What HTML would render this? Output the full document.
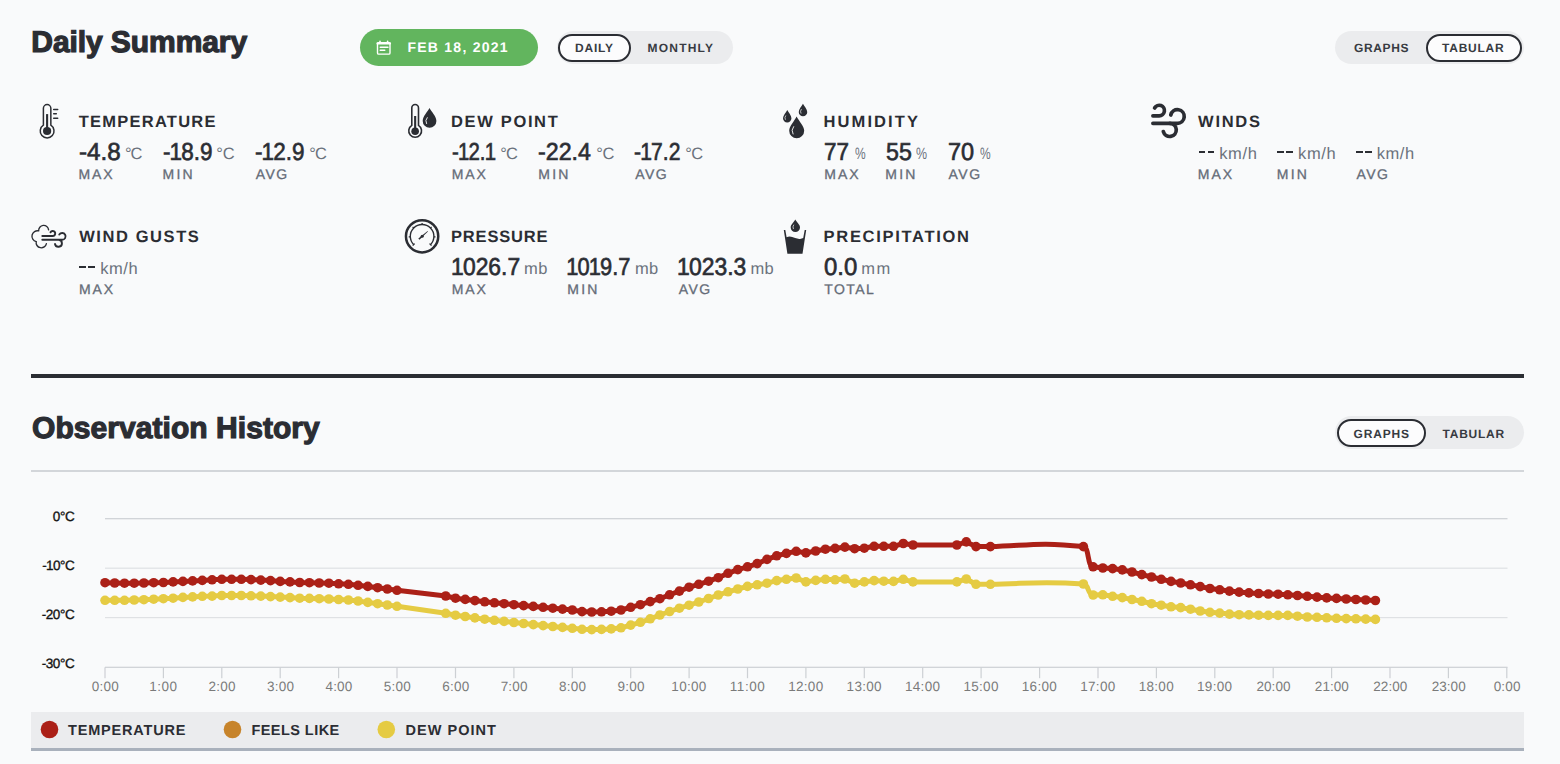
<!DOCTYPE html>
<html lang="en"><head><meta charset="utf-8"><title>Daily Summary</title>
<style>
html,body{margin:0;padding:0}
body{width:1560px;height:764px;overflow:hidden;background:#f9fafb;font-family:"Liberation Sans",sans-serif;position:relative;text-rendering:geometricPrecision}
.t{position:absolute;white-space:pre}
.d{position:absolute;background:#2b2d33;display:block}
.pill{position:absolute;border-radius:40px}
.tog{background:#ebecee}
.sel{background:#fcfcfd;border:2px solid #2b2d33;box-sizing:border-box}
.yl{position:absolute;right:1485px;font-size:13px;line-height:15px;color:#111;-webkit-text-stroke:0.55px #111;white-space:pre}
.xl{position:absolute;width:60px;text-align:center;top:679.5px;font-size:14px;line-height:15px;color:#777;white-space:pre}
svg{position:absolute;left:0;top:0}
</style></head><body>
<div class="pill" style="left:360px;top:29px;width:177.7px;height:37.4px;background:#62b55e"></div>
<div class="pill tog" style="left:557px;top:31.2px;width:176px;height:33px"></div>
<div class="pill sel" style="left:558.2px;top:33.5px;width:72.6px;height:28.5px"></div>
<div class="pill tog" style="left:1335px;top:31.2px;width:188.5px;height:33px"></div>
<div class="pill sel" style="left:1426px;top:33.5px;width:95.5px;height:28.5px"></div>
<div class="pill tog" style="left:1335px;top:416.4px;width:188.5px;height:33px"></div>
<div class="pill sel" style="left:1336.6px;top:418.7px;width:89.6px;height:28.5px"></div>
<div style="position:absolute;left:31.3px;top:373.8px;width:1492.6px;height:4.4px;background:#2b2d33"></div>
<div style="position:absolute;left:31.3px;top:469.5px;width:1492.6px;height:2px;background:#d3d6da"></div>
<div style="position:absolute;left:31.3px;top:712px;width:1492.6px;height:35.6px;background:#ebecee;border-bottom:3px solid #a9b1bc"></div>
<svg width="1560" height="764" viewBox="0 0 1560 764">
<rect x="105" y="518.1" width="1402.5" height="1.2" fill="#cdd0d4"/>
<rect x="105" y="567.6" width="1402.5" height="1.2" fill="#dfe1e4"/>
<rect x="105" y="617.0" width="1402.5" height="1.2" fill="#dfe1e4"/>
<rect x="105" y="666.7" width="1402.5" height="1.2" fill="#cdd0d4"/>
<rect x="104.4" y="667.3" width="1.2" height="10.9" fill="#cdd0d4"/>
<rect x="162.8" y="667.3" width="1.2" height="10.9" fill="#cdd0d4"/>
<rect x="221.2" y="667.3" width="1.2" height="10.9" fill="#cdd0d4"/>
<rect x="279.6" y="667.3" width="1.2" height="10.9" fill="#cdd0d4"/>
<rect x="338.0" y="667.3" width="1.2" height="10.9" fill="#cdd0d4"/>
<rect x="396.4" y="667.3" width="1.2" height="10.9" fill="#cdd0d4"/>
<rect x="454.9" y="667.3" width="1.2" height="10.9" fill="#cdd0d4"/>
<rect x="513.3" y="667.3" width="1.2" height="10.9" fill="#cdd0d4"/>
<rect x="571.7" y="667.3" width="1.2" height="10.9" fill="#cdd0d4"/>
<rect x="630.1" y="667.3" width="1.2" height="10.9" fill="#cdd0d4"/>
<rect x="688.5" y="667.3" width="1.2" height="10.9" fill="#cdd0d4"/>
<rect x="746.9" y="667.3" width="1.2" height="10.9" fill="#cdd0d4"/>
<rect x="805.3" y="667.3" width="1.2" height="10.9" fill="#cdd0d4"/>
<rect x="863.7" y="667.3" width="1.2" height="10.9" fill="#cdd0d4"/>
<rect x="922.1" y="667.3" width="1.2" height="10.9" fill="#cdd0d4"/>
<rect x="980.5" y="667.3" width="1.2" height="10.9" fill="#cdd0d4"/>
<rect x="1039.0" y="667.3" width="1.2" height="10.9" fill="#cdd0d4"/>
<rect x="1097.4" y="667.3" width="1.2" height="10.9" fill="#cdd0d4"/>
<rect x="1155.8" y="667.3" width="1.2" height="10.9" fill="#cdd0d4"/>
<rect x="1214.2" y="667.3" width="1.2" height="10.9" fill="#cdd0d4"/>
<rect x="1272.6" y="667.3" width="1.2" height="10.9" fill="#cdd0d4"/>
<rect x="1331.0" y="667.3" width="1.2" height="10.9" fill="#cdd0d4"/>
<rect x="1389.4" y="667.3" width="1.2" height="10.9" fill="#cdd0d4"/>
<rect x="1447.8" y="667.3" width="1.2" height="10.9" fill="#cdd0d4"/>
<rect x="1506.2" y="667.3" width="1.2" height="10.9" fill="#cdd0d4"/>
<path d="M105.0 600.3L114.7 600.3L124.5 600.3L134.2 600.0L143.9 599.7L153.7 599.2L163.4 598.7L173.1 598.2L182.9 597.4L192.6 596.9L202.3 596.3L212.1 596.1L221.8 595.5L231.6 595.5L241.3 595.5L251.0 595.8L260.8 596.1L270.5 596.6L280.2 597.1L290.0 597.6L299.7 598.2L309.4 598.4L319.2 598.7L328.9 599.0L338.6 599.5L348.4 600.0L358.1 601.0L367.8 602.4L377.6 603.7L387.3 605.0L397.0 606.3L445.7 613.3L455.5 615.2L465.2 616.5L474.9 617.9L484.7 619.2L494.4 620.3L504.1 621.4L513.9 622.5L523.6 623.5L533.3 624.6L543.1 625.6L552.8 626.5L562.5 627.4L572.3 628.3L582.0 629.3L591.7 629.6L601.5 629.4L611.2 628.9L621.0 627.8L630.7 625.1L640.4 622.3L650.2 618.8L659.9 615.0L669.6 611.5L679.4 608.2L689.1 605.2L698.8 602.0L708.6 598.5L718.3 595.0L728.0 591.8L737.8 589.0L747.5 586.4L757.2 584.8L767.0 583.2L776.7 580.6L786.4 579.3L796.2 578.0L805.9 581.9L815.7 580.4L825.4 579.3L835.1 579.8L844.9 579.0L854.6 583.2L864.3 581.9L874.1 580.6L883.8 581.2L893.5 581.4L903.3 579.3L913.0 581.9L956.9 581.9L966.3 579.0L976.0 584.3L990.4 584.3C1025.4 583.9 1038.4 580.6 1083.4 584.0C1089.2 584.0 1087.2 595.0 1093.1 595.0L1102.8 594.8L1112.6 596.3L1122.3 597.6L1132.0 599.5L1141.8 601.3L1151.5 603.7L1161.2 605.2L1171.0 606.8L1180.7 607.6L1190.5 609.2L1200.2 611.0L1209.9 612.3L1219.7 613.1L1229.4 614.1L1239.1 614.7L1248.9 614.9L1258.6 615.2L1268.3 615.4L1278.1 615.4L1287.8 615.4L1297.5 616.2L1307.3 617.0L1317.0 617.3L1326.7 617.8L1336.5 618.3L1346.2 618.6L1355.9 618.8L1365.7 619.1L1375.4 619.4" fill="none" stroke="#e5cb43" stroke-width="5" stroke-linejoin="round" stroke-linecap="round"/>
<g fill="#e5cb43"><circle cx="105.0" cy="600.3" r="4.8"/><circle cx="114.7" cy="600.3" r="4.8"/><circle cx="124.5" cy="600.3" r="4.8"/><circle cx="134.2" cy="600.0" r="4.8"/><circle cx="143.9" cy="599.7" r="4.8"/><circle cx="153.7" cy="599.2" r="4.8"/><circle cx="163.4" cy="598.7" r="4.8"/><circle cx="173.1" cy="598.2" r="4.8"/><circle cx="182.9" cy="597.4" r="4.8"/><circle cx="192.6" cy="596.9" r="4.8"/><circle cx="202.3" cy="596.3" r="4.8"/><circle cx="212.1" cy="596.1" r="4.8"/><circle cx="221.8" cy="595.5" r="4.8"/><circle cx="231.6" cy="595.5" r="4.8"/><circle cx="241.3" cy="595.5" r="4.8"/><circle cx="251.0" cy="595.8" r="4.8"/><circle cx="260.8" cy="596.1" r="4.8"/><circle cx="270.5" cy="596.6" r="4.8"/><circle cx="280.2" cy="597.1" r="4.8"/><circle cx="290.0" cy="597.6" r="4.8"/><circle cx="299.7" cy="598.2" r="4.8"/><circle cx="309.4" cy="598.4" r="4.8"/><circle cx="319.2" cy="598.7" r="4.8"/><circle cx="328.9" cy="599.0" r="4.8"/><circle cx="338.6" cy="599.5" r="4.8"/><circle cx="348.4" cy="600.0" r="4.8"/><circle cx="358.1" cy="601.0" r="4.8"/><circle cx="367.8" cy="602.4" r="4.8"/><circle cx="377.6" cy="603.7" r="4.8"/><circle cx="387.3" cy="605.0" r="4.8"/><circle cx="397.0" cy="606.3" r="4.8"/><circle cx="445.7" cy="613.3" r="4.8"/><circle cx="455.5" cy="615.2" r="4.8"/><circle cx="465.2" cy="616.5" r="4.8"/><circle cx="474.9" cy="617.9" r="4.8"/><circle cx="484.7" cy="619.2" r="4.8"/><circle cx="494.4" cy="620.3" r="4.8"/><circle cx="504.1" cy="621.4" r="4.8"/><circle cx="513.9" cy="622.5" r="4.8"/><circle cx="523.6" cy="623.5" r="4.8"/><circle cx="533.3" cy="624.6" r="4.8"/><circle cx="543.1" cy="625.6" r="4.8"/><circle cx="552.8" cy="626.5" r="4.8"/><circle cx="562.5" cy="627.4" r="4.8"/><circle cx="572.3" cy="628.3" r="4.8"/><circle cx="582.0" cy="629.3" r="4.8"/><circle cx="591.7" cy="629.6" r="4.8"/><circle cx="601.5" cy="629.4" r="4.8"/><circle cx="611.2" cy="628.9" r="4.8"/><circle cx="621.0" cy="627.8" r="4.8"/><circle cx="630.7" cy="625.1" r="4.8"/><circle cx="640.4" cy="622.3" r="4.8"/><circle cx="650.2" cy="618.8" r="4.8"/><circle cx="659.9" cy="615.0" r="4.8"/><circle cx="669.6" cy="611.5" r="4.8"/><circle cx="679.4" cy="608.2" r="4.8"/><circle cx="689.1" cy="605.2" r="4.8"/><circle cx="698.8" cy="602.0" r="4.8"/><circle cx="708.6" cy="598.5" r="4.8"/><circle cx="718.3" cy="595.0" r="4.8"/><circle cx="728.0" cy="591.8" r="4.8"/><circle cx="737.8" cy="589.0" r="4.8"/><circle cx="747.5" cy="586.4" r="4.8"/><circle cx="757.2" cy="584.8" r="4.8"/><circle cx="767.0" cy="583.2" r="4.8"/><circle cx="776.7" cy="580.6" r="4.8"/><circle cx="786.4" cy="579.3" r="4.8"/><circle cx="796.2" cy="578.0" r="4.8"/><circle cx="805.9" cy="581.9" r="4.8"/><circle cx="815.7" cy="580.4" r="4.8"/><circle cx="825.4" cy="579.3" r="4.8"/><circle cx="835.1" cy="579.8" r="4.8"/><circle cx="844.9" cy="579.0" r="4.8"/><circle cx="854.6" cy="583.2" r="4.8"/><circle cx="864.3" cy="581.9" r="4.8"/><circle cx="874.1" cy="580.6" r="4.8"/><circle cx="883.8" cy="581.2" r="4.8"/><circle cx="893.5" cy="581.4" r="4.8"/><circle cx="903.3" cy="579.3" r="4.8"/><circle cx="913.0" cy="581.9" r="4.8"/><circle cx="956.9" cy="581.9" r="4.8"/><circle cx="966.3" cy="579.0" r="4.8"/><circle cx="976.0" cy="584.3" r="4.8"/><circle cx="990.4" cy="584.3" r="4.8"/><circle cx="1083.4" cy="584.0" r="4.8"/><circle cx="1093.1" cy="595.0" r="4.8"/><circle cx="1102.8" cy="594.8" r="4.8"/><circle cx="1112.6" cy="596.3" r="4.8"/><circle cx="1122.3" cy="597.6" r="4.8"/><circle cx="1132.0" cy="599.5" r="4.8"/><circle cx="1141.8" cy="601.3" r="4.8"/><circle cx="1151.5" cy="603.7" r="4.8"/><circle cx="1161.2" cy="605.2" r="4.8"/><circle cx="1171.0" cy="606.8" r="4.8"/><circle cx="1180.7" cy="607.6" r="4.8"/><circle cx="1190.5" cy="609.2" r="4.8"/><circle cx="1200.2" cy="611.0" r="4.8"/><circle cx="1209.9" cy="612.3" r="4.8"/><circle cx="1219.7" cy="613.1" r="4.8"/><circle cx="1229.4" cy="614.1" r="4.8"/><circle cx="1239.1" cy="614.7" r="4.8"/><circle cx="1248.9" cy="614.9" r="4.8"/><circle cx="1258.6" cy="615.2" r="4.8"/><circle cx="1268.3" cy="615.4" r="4.8"/><circle cx="1278.1" cy="615.4" r="4.8"/><circle cx="1287.8" cy="615.4" r="4.8"/><circle cx="1297.5" cy="616.2" r="4.8"/><circle cx="1307.3" cy="617.0" r="4.8"/><circle cx="1317.0" cy="617.3" r="4.8"/><circle cx="1326.7" cy="617.8" r="4.8"/><circle cx="1336.5" cy="618.3" r="4.8"/><circle cx="1346.2" cy="618.6" r="4.8"/><circle cx="1355.9" cy="618.8" r="4.8"/><circle cx="1365.7" cy="619.1" r="4.8"/><circle cx="1375.4" cy="619.4" r="4.8"/></g>
<path d="M105.0 582.7L114.7 583.0L124.5 583.2L134.2 583.2L143.9 583.0L153.7 582.7L163.4 582.5L173.1 581.9L182.9 581.4L192.6 580.9L202.3 580.4L212.1 579.8L221.8 579.3L231.6 579.3L241.3 579.3L251.0 579.6L260.8 580.1L270.5 580.6L280.2 581.4L290.0 581.9L299.7 582.5L309.4 582.7L319.2 583.0L328.9 583.2L338.6 583.8L348.4 584.3L358.1 585.3L367.8 586.4L377.6 587.7L387.3 589.0L397.0 590.3L445.7 596.0L455.5 598.2L465.2 599.4L474.9 600.6L484.7 601.8L494.4 602.8L504.1 603.7L513.9 604.7L523.6 605.6L533.3 606.4L543.1 607.3L552.8 608.2L562.5 609.1L572.3 610.0L582.0 611.6L591.7 612.0L601.5 611.8L611.2 611.2L621.0 610.0L630.7 607.3L640.4 604.7L650.2 601.6L659.9 598.7L669.6 594.8L679.4 591.1L689.1 587.2L698.8 584.3L708.6 581.2L718.3 577.7L728.0 573.3L737.8 569.6L747.5 566.8L757.2 563.6L767.0 559.4L776.7 555.8L786.4 553.4L796.2 551.3L805.9 552.9L815.7 551.0L825.4 549.2L835.1 548.4L844.9 547.1L854.6 548.7L864.3 548.2L874.1 546.3L883.8 546.3L893.5 546.3L903.3 543.5L913.0 545.0L956.9 545.0L966.3 541.9L976.0 546.6L990.4 546.6C1025.4 545.9 1038.4 541.5 1083.4 546.6C1089.2 546.6 1087.2 566.8 1093.1 566.8L1102.8 568.0L1112.6 568.6L1122.3 569.9L1132.0 572.0L1141.8 574.6L1151.5 577.0L1161.2 579.3L1171.0 581.4L1180.7 583.0L1190.5 584.8L1200.2 586.6L1209.9 588.5L1219.7 589.8L1229.4 591.1L1239.1 592.1L1248.9 592.9L1258.6 593.5L1268.3 594.0L1278.1 594.2L1287.8 594.8L1297.5 595.5L1307.3 596.3L1317.0 597.1L1326.7 597.9L1336.5 598.4L1346.2 599.0L1355.9 599.5L1365.7 600.0L1375.4 600.5" fill="none" stroke="#ab2017" stroke-width="5" stroke-linejoin="round" stroke-linecap="round"/>
<g fill="#ab2017"><circle cx="105.0" cy="582.7" r="4.8"/><circle cx="114.7" cy="583.0" r="4.8"/><circle cx="124.5" cy="583.2" r="4.8"/><circle cx="134.2" cy="583.2" r="4.8"/><circle cx="143.9" cy="583.0" r="4.8"/><circle cx="153.7" cy="582.7" r="4.8"/><circle cx="163.4" cy="582.5" r="4.8"/><circle cx="173.1" cy="581.9" r="4.8"/><circle cx="182.9" cy="581.4" r="4.8"/><circle cx="192.6" cy="580.9" r="4.8"/><circle cx="202.3" cy="580.4" r="4.8"/><circle cx="212.1" cy="579.8" r="4.8"/><circle cx="221.8" cy="579.3" r="4.8"/><circle cx="231.6" cy="579.3" r="4.8"/><circle cx="241.3" cy="579.3" r="4.8"/><circle cx="251.0" cy="579.6" r="4.8"/><circle cx="260.8" cy="580.1" r="4.8"/><circle cx="270.5" cy="580.6" r="4.8"/><circle cx="280.2" cy="581.4" r="4.8"/><circle cx="290.0" cy="581.9" r="4.8"/><circle cx="299.7" cy="582.5" r="4.8"/><circle cx="309.4" cy="582.7" r="4.8"/><circle cx="319.2" cy="583.0" r="4.8"/><circle cx="328.9" cy="583.2" r="4.8"/><circle cx="338.6" cy="583.8" r="4.8"/><circle cx="348.4" cy="584.3" r="4.8"/><circle cx="358.1" cy="585.3" r="4.8"/><circle cx="367.8" cy="586.4" r="4.8"/><circle cx="377.6" cy="587.7" r="4.8"/><circle cx="387.3" cy="589.0" r="4.8"/><circle cx="397.0" cy="590.3" r="4.8"/><circle cx="445.7" cy="596.0" r="4.8"/><circle cx="455.5" cy="598.2" r="4.8"/><circle cx="465.2" cy="599.4" r="4.8"/><circle cx="474.9" cy="600.6" r="4.8"/><circle cx="484.7" cy="601.8" r="4.8"/><circle cx="494.4" cy="602.8" r="4.8"/><circle cx="504.1" cy="603.7" r="4.8"/><circle cx="513.9" cy="604.7" r="4.8"/><circle cx="523.6" cy="605.6" r="4.8"/><circle cx="533.3" cy="606.4" r="4.8"/><circle cx="543.1" cy="607.3" r="4.8"/><circle cx="552.8" cy="608.2" r="4.8"/><circle cx="562.5" cy="609.1" r="4.8"/><circle cx="572.3" cy="610.0" r="4.8"/><circle cx="582.0" cy="611.6" r="4.8"/><circle cx="591.7" cy="612.0" r="4.8"/><circle cx="601.5" cy="611.8" r="4.8"/><circle cx="611.2" cy="611.2" r="4.8"/><circle cx="621.0" cy="610.0" r="4.8"/><circle cx="630.7" cy="607.3" r="4.8"/><circle cx="640.4" cy="604.7" r="4.8"/><circle cx="650.2" cy="601.6" r="4.8"/><circle cx="659.9" cy="598.7" r="4.8"/><circle cx="669.6" cy="594.8" r="4.8"/><circle cx="679.4" cy="591.1" r="4.8"/><circle cx="689.1" cy="587.2" r="4.8"/><circle cx="698.8" cy="584.3" r="4.8"/><circle cx="708.6" cy="581.2" r="4.8"/><circle cx="718.3" cy="577.7" r="4.8"/><circle cx="728.0" cy="573.3" r="4.8"/><circle cx="737.8" cy="569.6" r="4.8"/><circle cx="747.5" cy="566.8" r="4.8"/><circle cx="757.2" cy="563.6" r="4.8"/><circle cx="767.0" cy="559.4" r="4.8"/><circle cx="776.7" cy="555.8" r="4.8"/><circle cx="786.4" cy="553.4" r="4.8"/><circle cx="796.2" cy="551.3" r="4.8"/><circle cx="805.9" cy="552.9" r="4.8"/><circle cx="815.7" cy="551.0" r="4.8"/><circle cx="825.4" cy="549.2" r="4.8"/><circle cx="835.1" cy="548.4" r="4.8"/><circle cx="844.9" cy="547.1" r="4.8"/><circle cx="854.6" cy="548.7" r="4.8"/><circle cx="864.3" cy="548.2" r="4.8"/><circle cx="874.1" cy="546.3" r="4.8"/><circle cx="883.8" cy="546.3" r="4.8"/><circle cx="893.5" cy="546.3" r="4.8"/><circle cx="903.3" cy="543.5" r="4.8"/><circle cx="913.0" cy="545.0" r="4.8"/><circle cx="956.9" cy="545.0" r="4.8"/><circle cx="966.3" cy="541.9" r="4.8"/><circle cx="976.0" cy="546.6" r="4.8"/><circle cx="990.4" cy="546.6" r="4.8"/><circle cx="1083.4" cy="546.6" r="4.8"/><circle cx="1093.1" cy="566.8" r="4.8"/><circle cx="1102.8" cy="568.0" r="4.8"/><circle cx="1112.6" cy="568.6" r="4.8"/><circle cx="1122.3" cy="569.9" r="4.8"/><circle cx="1132.0" cy="572.0" r="4.8"/><circle cx="1141.8" cy="574.6" r="4.8"/><circle cx="1151.5" cy="577.0" r="4.8"/><circle cx="1161.2" cy="579.3" r="4.8"/><circle cx="1171.0" cy="581.4" r="4.8"/><circle cx="1180.7" cy="583.0" r="4.8"/><circle cx="1190.5" cy="584.8" r="4.8"/><circle cx="1200.2" cy="586.6" r="4.8"/><circle cx="1209.9" cy="588.5" r="4.8"/><circle cx="1219.7" cy="589.8" r="4.8"/><circle cx="1229.4" cy="591.1" r="4.8"/><circle cx="1239.1" cy="592.1" r="4.8"/><circle cx="1248.9" cy="592.9" r="4.8"/><circle cx="1258.6" cy="593.5" r="4.8"/><circle cx="1268.3" cy="594.0" r="4.8"/><circle cx="1278.1" cy="594.2" r="4.8"/><circle cx="1287.8" cy="594.8" r="4.8"/><circle cx="1297.5" cy="595.5" r="4.8"/><circle cx="1307.3" cy="596.3" r="4.8"/><circle cx="1317.0" cy="597.1" r="4.8"/><circle cx="1326.7" cy="597.9" r="4.8"/><circle cx="1336.5" cy="598.4" r="4.8"/><circle cx="1346.2" cy="599.0" r="4.8"/><circle cx="1355.9" cy="599.5" r="4.8"/><circle cx="1365.7" cy="600.0" r="4.8"/><circle cx="1375.4" cy="600.5" r="4.8"/></g>
<circle cx="49.5" cy="729.5" r="8.8" fill="#ab2017"/><circle cx="232.5" cy="729.5" r="8.8" fill="#c7842b"/><circle cx="386.3" cy="729.5" r="8.8" fill="#e5cb43"/>

<!-- thermometer (temperature) -->
<g fill="none" stroke="#2b2d33" stroke-width="1.5" stroke-linecap="round">
<path d="M43.4 125.2V108.3a3.72 3.72 0 0 1 7.44 0V125.2a6.9 6.9 0 1 1-7.44 0z"/>
<path d="M53.7 109.4H57.7M53.7 113.8H56.3M53.7 118.2H57.7"/>
</g>
<circle cx="47.1" cy="131" r="4.1" fill="#2b2d33"/>
<rect x="46.05" y="114.1" width="2.1" height="15" fill="#2b2d33"/>
<!-- dew point -->
<path d="M411.8 125.4V107.9a3.35 3.35 0 0 1 6.7 0V125.4a6.4 6.4 0 1 1-6.7 0z" fill="none" stroke="#2b2d33" stroke-width="1.6"/>
<circle cx="415.15" cy="131.3" r="3.8" fill="#2b2d33"/>
<rect x="414.1" y="116" width="2.1" height="14" fill="#2b2d33"/>
<path d="M429.5 108.1C431.5 112 436.4 116.5 436.4 121a6.85 6.85 0 0 1-13.7 0C422.7 116.5 427.5 112 429.5 108.1z" fill="#2b2d33"/>
<path d="M427.2 117.6a5.2 5.2 0 0 0-.7 6" fill="none" stroke="#f9fafb" stroke-width="0.9" stroke-linecap="round"/>
<!-- humidity -->
<path d="M796.6 116.6C799 121.5 804.2 126 804.2 130.8a7.5 7.5 0 0 1-15 0C789.2 126 794.3 121.5 796.6 116.6z" fill="#2b2d33"/>
<path d="M793.6 126.6a6.5 6.5 0 0 0-.6 7.4" fill="none" stroke="#f9fafb" stroke-width="0.9" stroke-linecap="round"/>
<path d="M787.3 109.9C788.6 112.6 791.45 115.4 791.45 118.3a4.22 4.22 0 0 1-8.45 0C783 115.4 786 112.6 787.3 109.9z" fill="#2b2d33"/>
<path d="M785.6 115.8q-1.3 1.7-.3 3.6" fill="none" stroke="#f9fafb" stroke-width="0.7" stroke-linecap="round"/>
<path d="M802.95 103.8C804.3 106.5 807.25 109.2 807.25 112.1a4.25 4.25 0 0 1-8.5 0C798.75 109.2 801.6 106.5 802.95 103.8z" fill="#2b2d33"/>
<path d="M801.2 109.4q-1.4 1.8-.3 3.8" fill="none" stroke="#f9fafb" stroke-width="0.7" stroke-linecap="round"/>
<!-- winds -->
<g fill="none" stroke="#2b2d33" stroke-width="3.7" stroke-linecap="round">
<path d="M1152.9 115.8H1159.1A5.25 5.25 0 1 0 1154.6 108"/>
<path d="M1152.9 123.3H1177.2A6.8 6.8 0 1 0 1170.8 115"/>
<path d="M1169.9 123.3A6.6 6.6 0 1 1 1163.3 131.6"/>
</g>
<!-- wind gusts -->
<g fill="none" stroke="#2b2d33" stroke-linecap="round">
<path stroke-width="1.35" d="M38.7 230.9A4.5 4.5 0 1 0 36.2 241.6A4.7 4.7 0 0 0 46.4 243.6M38.7 230.9A4.9 4.9 0 0 1 48.6 229.9"/>
<path stroke-width="1.9" d="M42.3 236H52.7A2.5 2.5 0 1 0 50.5 232.3M42.3 239.8H62.2A3.4 3.4 0 1 0 59.3 234.6M58.6 239.8A3.5 3.5 0 1 1 55 244"/>
</g>
<!-- pressure -->
<circle cx="422.1" cy="236.3" r="16.15" fill="none" stroke="#2b2d33" stroke-width="2.5"/>
<path d="M413.75 244.65A11.8 11.8 0 1 1 430.45 244.65" fill="none" stroke="#2b2d33" stroke-width="1.35"/>
<g stroke="#2b2d33" stroke-width="1.2" fill="none"><path d="M422.1 224.5V222.9M410.3 236.9H408.7M433.9 236.9H435.5M413.76 227.96L412.6 226.8M430.44 227.96L431.6 226.8M414.7 243.7L412.7 245.7M429.5 243.7L431.5 245.7"/></g>
<path d="M419.5 239.85L418.3 238.55L427.65 231L427.95 231.4z" fill="#2b2d33"/>
<circle cx="422.2" cy="236.3" r="1.55" fill="#2b2d33"/>
<!-- precipitation -->
<path d="M783.8 230h1.5l1.3 7.2q2.6-1.3 5.6-.3t6 1.8q3 .6 5-.6l1.5-8.1h1.5l-3.7 23.7h-15.1z" fill="#2b2d33"/>
<path d="M795.3 219.5C796.8 222.6 800 224.4 800 227.4a4.65 4.65 0 0 1-9.3 0C790.7 224.4 793.8 222.6 795.3 219.5z" fill="#2b2d33"/>
<path d="M793.6 225q-1.3 1.8-.3 3.7" fill="none" stroke="#f9fafb" stroke-width="0.7" stroke-linecap="round"/>
<!-- calendar -->
<g fill="none" stroke="#fff" stroke-linecap="round" stroke-linejoin="round">
<rect x="377.5" y="42.6" width="12.5" height="11.5" rx="1.2" stroke-width="1.4"/>
<path d="M377.5 43.4H390" stroke-width="2.2"/>
<path d="M380 41.2v1.5M387.6 41.2v1.5" stroke-width="1.6"/>
<path d="M380.2 47.2H388M380.2 50.2H384.8" stroke-width="1.4"/>
</g>

</svg>
<i class="d" style="left:1198.5px;top:150.7px;width:6.8px;height:2.5px"></i><i class="d" style="left:1207.5px;top:150.7px;width:6.8px;height:2.5px"></i><i class="d" style="left:1277.0px;top:150.7px;width:6.9px;height:2.5px"></i><i class="d" style="left:1286.0px;top:150.7px;width:6.9px;height:2.5px"></i><i class="d" style="left:1355.7px;top:150.7px;width:6.9px;height:2.5px"></i><i class="d" style="left:1364.8px;top:150.7px;width:6.9px;height:2.5px"></i><i class="d" style="left:79.2px;top:265.9px;width:6.8px;height:2.5px"></i><i class="d" style="left:88.2px;top:265.9px;width:6.8px;height:2.5px"></i>
<span class="t" style="left:31.30px;top:28.00px;font-size:30px;line-height:30px;color:#2b2d33;font-weight:bold;letter-spacing:-0.08px;-webkit-text-stroke:1.2px #2b2d33;">Daily Summary</span><span class="t" style="left:32.10px;top:414.00px;font-size:30px;line-height:30px;color:#2b2d33;font-weight:bold;letter-spacing:0.05px;-webkit-text-stroke:1.2px #2b2d33;">Observation History</span><span class="t" style="left:407.40px;top:40.00px;font-size:14px;line-height:14px;color:#ffffff;font-weight:bold;letter-spacing:1.26px;">FEB 18, 2021</span><span class="t" style="left:575.00px;top:42.00px;font-size:12px;line-height:12px;color:#383b42;font-weight:bold;letter-spacing:0.78px;">DAILY</span><span class="t" style="left:647.50px;top:42.00px;font-size:12px;line-height:12px;color:#383b42;font-weight:bold;letter-spacing:1.21px;">MONTHLY</span><span class="t" style="left:1354.00px;top:42.00px;font-size:12px;line-height:12px;color:#383b42;font-weight:bold;letter-spacing:0.63px;">GRAPHS</span><span class="t" style="left:1442.00px;top:42.00px;font-size:12px;line-height:12px;color:#383b42;font-weight:bold;letter-spacing:0.76px;">TABULAR</span><span class="t" style="left:1353.50px;top:428.00px;font-size:12px;line-height:12px;color:#383b42;font-weight:bold;letter-spacing:0.83px;">GRAPHS</span><span class="t" style="left:1442.50px;top:428.00px;font-size:12px;line-height:12px;color:#383b42;font-weight:bold;letter-spacing:0.76px;">TABULAR</span><span class="t" style="left:78.80px;top:114.00px;font-size:16.5px;line-height:16.5px;color:#2b2d33;font-weight:bold;letter-spacing:1.23px;">TEMPERATURE</span><span class="t" style="left:78.63px;top:141.00px;font-size:24.5px;line-height:24.5px;color:#2b2d33;-webkit-text-stroke:0.65px #2b2d33;transform:scaleX(0.987);transform-origin:0 0;">-4.8</span><span class="t" style="left:125.00px;top:146.00px;font-size:16.5px;line-height:16.5px;color:#6b727d;letter-spacing:-1.10px;">°C</span><span class="t" style="left:78.55px;top:167.00px;font-size:14px;line-height:14px;color:#646b77;letter-spacing:1.90px;-webkit-text-stroke:0.3px #646b77;">MAX</span><span class="t" style="left:162.68px;top:141.00px;font-size:24.5px;line-height:24.5px;color:#2b2d33;-webkit-text-stroke:0.65px #2b2d33;transform:scaleX(0.917);transform-origin:0 0;">-<b style="font-weight:inherit;margin:0 -0.98px">1</b>8.9</span><span class="t" style="left:216.30px;top:146.00px;font-size:16.5px;line-height:16.5px;color:#6b727d;letter-spacing:-0.20px;">°C</span><span class="t" style="left:162.55px;top:167.00px;font-size:14px;line-height:14px;color:#646b77;letter-spacing:2.22px;-webkit-text-stroke:0.3px #646b77;">MIN</span><span class="t" style="left:254.88px;top:141.00px;font-size:24.5px;line-height:24.5px;color:#2b2d33;-webkit-text-stroke:0.65px #2b2d33;transform:scaleX(0.917);transform-origin:0 0;">-<b style="font-weight:inherit;margin:0 -0.98px">1</b>2.9</span><span class="t" style="left:309.30px;top:146.00px;font-size:16.5px;line-height:16.5px;color:#6b727d;letter-spacing:-0.90px;">°C</span><span class="t" style="left:255.75px;top:167.00px;font-size:14px;line-height:14px;color:#646b77;letter-spacing:1.48px;-webkit-text-stroke:0.3px #646b77;">AVG</span><span class="t" style="left:451.00px;top:114.00px;font-size:16.5px;line-height:16.5px;color:#2b2d33;font-weight:bold;letter-spacing:1.66px;">DEW POINT</span><span class="t" style="left:451.94px;top:141.00px;font-size:24.5px;line-height:24.5px;color:#2b2d33;-webkit-text-stroke:0.65px #2b2d33;transform:scaleX(0.830);transform-origin:0 0;">-<b style="font-weight:inherit;margin:0 -0.98px">1</b>2.<b style="font-weight:inherit;margin:0 -0.98px">1</b></span><span class="t" style="left:500.30px;top:146.00px;font-size:16.5px;line-height:16.5px;color:#6b727d;letter-spacing:-0.90px;">°C</span><span class="t" style="left:451.75px;top:167.00px;font-size:14px;line-height:14px;color:#646b77;letter-spacing:1.90px;-webkit-text-stroke:0.3px #646b77;">MAX</span><span class="t" style="left:538.36px;top:141.00px;font-size:24.5px;line-height:24.5px;color:#2b2d33;-webkit-text-stroke:0.65px #2b2d33;transform:scaleX(0.948);transform-origin:0 0;">-22.4</span><span class="t" style="left:596.30px;top:146.00px;font-size:16.5px;line-height:16.5px;color:#6b727d;letter-spacing:-0.50px;">°C</span><span class="t" style="left:538.25px;top:167.00px;font-size:14px;line-height:14px;color:#646b77;letter-spacing:2.22px;-webkit-text-stroke:0.3px #646b77;">MIN</span><span class="t" style="left:634.32px;top:141.00px;font-size:24.5px;line-height:24.5px;color:#2b2d33;-webkit-text-stroke:0.65px #2b2d33;transform:scaleX(0.860);transform-origin:0 0;">-<b style="font-weight:inherit;margin:0 -0.98px">1</b>7.2</span><span class="t" style="left:685.20px;top:146.00px;font-size:16.5px;line-height:16.5px;color:#6b727d;letter-spacing:-0.50px;">°C</span><span class="t" style="left:635.15px;top:167.00px;font-size:14px;line-height:14px;color:#646b77;letter-spacing:1.48px;-webkit-text-stroke:0.3px #646b77;">AVG</span><span class="t" style="left:823.60px;top:114.00px;font-size:16.5px;line-height:16.5px;color:#2b2d33;font-weight:bold;letter-spacing:2.08px;">HUMIDITY</span><span class="t" style="left:824.48px;top:141.00px;font-size:24.5px;line-height:24.5px;color:#2b2d33;-webkit-text-stroke:0.65px #2b2d33;transform:scaleX(0.917);transform-origin:0 0;">77</span><span class="t" style="left:854.70px;top:146.00px;font-size:16.5px;line-height:16.5px;color:#6b727d;transform:scaleX(0.727);transform-origin:0 0;">%</span><span class="t" style="left:824.35px;top:167.00px;font-size:14px;line-height:14px;color:#646b77;letter-spacing:1.90px;-webkit-text-stroke:0.3px #646b77;">MAX</span><span class="t" style="left:885.91px;top:141.00px;font-size:24.5px;line-height:24.5px;color:#2b2d33;-webkit-text-stroke:0.65px #2b2d33;transform:scaleX(0.946);transform-origin:0 0;">55</span><span class="t" style="left:916.40px;top:146.00px;font-size:16.5px;line-height:16.5px;color:#6b727d;transform:scaleX(0.753);transform-origin:0 0;">%</span><span class="t" style="left:885.35px;top:167.00px;font-size:14px;line-height:14px;color:#646b77;letter-spacing:2.22px;-webkit-text-stroke:0.3px #646b77;">MIN</span><span class="t" style="left:947.65px;top:141.00px;font-size:24.5px;line-height:24.5px;color:#2b2d33;-webkit-text-stroke:0.65px #2b2d33;transform:scaleX(0.959);transform-origin:0 0;">70</span><span class="t" style="left:979.60px;top:146.00px;font-size:16.5px;line-height:16.5px;color:#6b727d;transform:scaleX(0.727);transform-origin:0 0;">%</span><span class="t" style="left:948.55px;top:167.00px;font-size:14px;line-height:14px;color:#646b77;letter-spacing:1.48px;-webkit-text-stroke:0.3px #646b77;">AVG</span><span class="t" style="left:1198.10px;top:114.00px;font-size:16.5px;line-height:16.5px;color:#2b2d33;font-weight:bold;letter-spacing:1.73px;">WINDS</span><span class="t" style="left:1219.20px;top:146.00px;font-size:16.5px;line-height:16.5px;color:#6b727d;letter-spacing:0.64px;">km/h</span><span class="t" style="left:1197.85px;top:167.00px;font-size:14px;line-height:14px;color:#646b77;letter-spacing:1.90px;-webkit-text-stroke:0.3px #646b77;">MAX</span><span class="t" style="left:1298.10px;top:146.00px;font-size:16.5px;line-height:16.5px;color:#6b727d;letter-spacing:0.57px;">km/h</span><span class="t" style="left:1276.75px;top:167.00px;font-size:14px;line-height:14px;color:#646b77;letter-spacing:2.22px;-webkit-text-stroke:0.3px #646b77;">MIN</span><span class="t" style="left:1376.80px;top:146.00px;font-size:16.5px;line-height:16.5px;color:#6b727d;letter-spacing:0.51px;">km/h</span><span class="t" style="left:1356.45px;top:167.00px;font-size:14px;line-height:14px;color:#646b77;letter-spacing:1.48px;-webkit-text-stroke:0.3px #646b77;">AVG</span><span class="t" style="left:79.20px;top:229.00px;font-size:16.5px;line-height:16.5px;color:#2b2d33;font-weight:bold;letter-spacing:1.58px;">WIND GUSTS</span><span class="t" style="left:100.30px;top:261.00px;font-size:16.5px;line-height:16.5px;color:#6b727d;letter-spacing:0.51px;">km/h</span><span class="t" style="left:78.95px;top:282.00px;font-size:14px;line-height:14px;color:#646b77;letter-spacing:1.90px;-webkit-text-stroke:0.3px #646b77;">MAX</span><span class="t" style="left:451.00px;top:229.00px;font-size:16.5px;line-height:16.5px;color:#2b2d33;font-weight:bold;letter-spacing:0.82px;">PRESSURE</span><span class="t" style="left:451.78px;top:256.00px;font-size:24.5px;line-height:24.5px;color:#2b2d33;-webkit-text-stroke:0.65px #2b2d33;transform:scaleX(0.933);transform-origin:0 0;"><b style="font-weight:inherit;margin:0 -0.98px">1</b>026.7</span><span class="t" style="left:524.00px;top:261.00px;font-size:16.5px;line-height:16.5px;color:#6b727d;letter-spacing:0.46px;">mb</span><span class="t" style="left:451.75px;top:282.00px;font-size:14px;line-height:14px;color:#646b77;letter-spacing:1.90px;-webkit-text-stroke:0.3px #646b77;">MAX</span><span class="t" style="left:567.27px;top:256.00px;font-size:24.5px;line-height:24.5px;color:#2b2d33;-webkit-text-stroke:0.65px #2b2d33;transform:scaleX(0.891);transform-origin:0 0;"><b style="font-weight:inherit;margin:0 -0.98px">1</b>0<b style="font-weight:inherit;margin:0 -0.98px">1</b>9.7</span><span class="t" style="left:634.90px;top:261.00px;font-size:16.5px;line-height:16.5px;color:#6b727d;letter-spacing:0.36px;">mb</span><span class="t" style="left:567.25px;top:282.00px;font-size:14px;line-height:14px;color:#646b77;letter-spacing:2.22px;-webkit-text-stroke:0.3px #646b77;">MIN</span><span class="t" style="left:677.79px;top:256.00px;font-size:24.5px;line-height:24.5px;color:#2b2d33;-webkit-text-stroke:0.65px #2b2d33;transform:scaleX(0.936);transform-origin:0 0;"><b style="font-weight:inherit;margin:0 -0.98px">1</b>023.3</span><span class="t" style="left:750.40px;top:261.00px;font-size:16.5px;line-height:16.5px;color:#6b727d;letter-spacing:0.36px;">mb</span><span class="t" style="left:678.75px;top:282.00px;font-size:14px;line-height:14px;color:#646b77;letter-spacing:1.48px;-webkit-text-stroke:0.3px #646b77;">AVG</span><span class="t" style="left:823.60px;top:229.00px;font-size:16.5px;line-height:16.5px;color:#2b2d33;font-weight:bold;letter-spacing:1.70px;">PRECIPITATION</span><span class="t" style="left:824.32px;top:256.00px;font-size:24.5px;line-height:24.5px;color:#2b2d33;-webkit-text-stroke:0.65px #2b2d33;transform:scaleX(0.977);transform-origin:0 0;">0.0</span><span class="t" style="left:861.30px;top:261.00px;font-size:16.5px;line-height:16.5px;color:#6b727d;letter-spacing:1.56px;">mm</span><span class="t" style="left:824.25px;top:282.00px;font-size:14px;line-height:14px;color:#646b77;letter-spacing:1.44px;-webkit-text-stroke:0.3px #646b77;">TOTAL</span><span class="t" style="left:68.00px;top:724.00px;font-size:14.5px;line-height:14.5px;color:#2b2d33;font-weight:bold;letter-spacing:0.81px;">TEMPERATURE</span><span class="t" style="left:251.40px;top:724.00px;font-size:14.5px;line-height:14.5px;color:#2b2d33;font-weight:bold;letter-spacing:0.45px;">FEELS LIKE</span><span class="t" style="left:405.60px;top:724.00px;font-size:14.5px;line-height:14.5px;color:#2b2d33;font-weight:bold;letter-spacing:1.01px;">DEW POINT</span><span class="t" style="left:52.82px;top:510.00px;font-size:13.5px;line-height:13.5px;color:#141414;letter-spacing:-0.40px;-webkit-text-stroke:0.35px #141414;">0°C</span><span class="t" style="left:42.17px;top:559.00px;font-size:13.5px;line-height:13.5px;color:#141414;letter-spacing:-0.54px;-webkit-text-stroke:0.35px #141414;">-10°C</span><span class="t" style="left:41.67px;top:608.00px;font-size:13.5px;line-height:13.5px;color:#141414;letter-spacing:-0.42px;-webkit-text-stroke:0.35px #141414;">-20°C</span><span class="t" style="left:41.67px;top:657.00px;font-size:13.5px;line-height:13.5px;color:#141414;letter-spacing:-0.42px;-webkit-text-stroke:0.35px #141414;">-30°C</span><span class="t" style="left:91.80px;top:680.00px;font-size:13.5px;line-height:13.5px;color:#7a7a7a;letter-spacing:0.21px;">0:00</span><span class="t" style="left:149.21px;top:680.00px;font-size:13.5px;line-height:13.5px;color:#7a7a7a;letter-spacing:0.54px;">1:00</span><span class="t" style="left:208.62px;top:680.00px;font-size:13.5px;line-height:13.5px;color:#7a7a7a;letter-spacing:0.21px;">2:00</span><span class="t" style="left:267.03px;top:680.00px;font-size:13.5px;line-height:13.5px;color:#7a7a7a;letter-spacing:0.21px;">3:00</span><span class="t" style="left:325.44px;top:680.00px;font-size:13.5px;line-height:13.5px;color:#7a7a7a;letter-spacing:0.21px;">4:00</span><span class="t" style="left:383.85px;top:680.00px;font-size:13.5px;line-height:13.5px;color:#7a7a7a;letter-spacing:0.21px;">5:00</span><span class="t" style="left:442.26px;top:680.00px;font-size:13.5px;line-height:13.5px;color:#7a7a7a;letter-spacing:0.21px;">6:00</span><span class="t" style="left:500.67px;top:680.00px;font-size:13.5px;line-height:13.5px;color:#7a7a7a;letter-spacing:0.21px;">7:00</span><span class="t" style="left:559.08px;top:680.00px;font-size:13.5px;line-height:13.5px;color:#7a7a7a;letter-spacing:0.21px;">8:00</span><span class="t" style="left:617.49px;top:680.00px;font-size:13.5px;line-height:13.5px;color:#7a7a7a;letter-spacing:0.21px;">9:00</span><span class="t" style="left:671.35px;top:680.00px;font-size:13.5px;line-height:13.5px;color:#7a7a7a;letter-spacing:0.31px;">10:00</span><span class="t" style="left:729.76px;top:680.00px;font-size:13.5px;line-height:13.5px;color:#7a7a7a;letter-spacing:0.56px;">11:00</span><span class="t" style="left:788.17px;top:680.00px;font-size:13.5px;line-height:13.5px;color:#7a7a7a;letter-spacing:0.31px;">12:00</span><span class="t" style="left:846.58px;top:680.00px;font-size:13.5px;line-height:13.5px;color:#7a7a7a;letter-spacing:0.31px;">13:00</span><span class="t" style="left:904.99px;top:680.00px;font-size:13.5px;line-height:13.5px;color:#7a7a7a;letter-spacing:0.31px;">14:00</span><span class="t" style="left:963.40px;top:680.00px;font-size:13.5px;line-height:13.5px;color:#7a7a7a;letter-spacing:0.31px;">15:00</span><span class="t" style="left:1021.81px;top:680.00px;font-size:13.5px;line-height:13.5px;color:#7a7a7a;letter-spacing:0.31px;">16:00</span><span class="t" style="left:1080.22px;top:680.00px;font-size:13.5px;line-height:13.5px;color:#7a7a7a;letter-spacing:0.31px;">17:00</span><span class="t" style="left:1138.63px;top:680.00px;font-size:13.5px;line-height:13.5px;color:#7a7a7a;letter-spacing:0.31px;">18:00</span><span class="t" style="left:1197.04px;top:680.00px;font-size:13.5px;line-height:13.5px;color:#7a7a7a;letter-spacing:0.31px;">19:00</span><span class="t" style="left:1256.45px;top:680.00px;font-size:13.5px;line-height:13.5px;color:#7a7a7a;letter-spacing:0.06px;">20:00</span><span class="t" style="left:1314.86px;top:680.00px;font-size:13.5px;line-height:13.5px;color:#7a7a7a;letter-spacing:0.06px;">21:00</span><span class="t" style="left:1373.27px;top:680.00px;font-size:13.5px;line-height:13.5px;color:#7a7a7a;letter-spacing:0.06px;">22:00</span><span class="t" style="left:1431.68px;top:680.00px;font-size:13.5px;line-height:13.5px;color:#7a7a7a;letter-spacing:0.06px;">23:00</span><span class="t" style="left:1493.64px;top:680.00px;font-size:13.5px;line-height:13.5px;color:#7a7a7a;letter-spacing:0.21px;">0:00</span>

</body></html>
